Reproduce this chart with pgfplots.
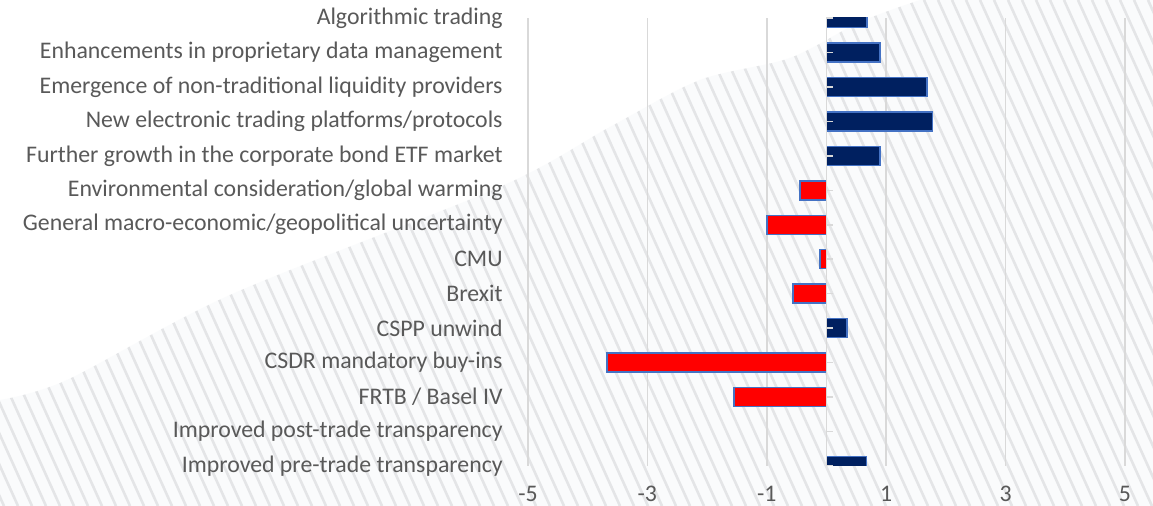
\documentclass[border=0pt]{standalone}
\usepackage{fontspec}
\setmainfont{Carlito}
\usepackage{pgfplots}
\pgfplotsset{compat=1.18}
\definecolor{navy}{HTML}{002060}
\definecolor{barred}{HTML}{FF0000}
\definecolor{edge}{HTML}{4472C4}
\definecolor{lbl}{HTML}{595959}
\definecolor{gridc}{HTML}{D9D9D9}
\definecolor{hatchbg}{HTML}{FAFBFC}
\definecolor{hatchc}{HTML}{E4E5E7}

% y = category index (0 = bottom), x = score
\pgfplotstableread{
y x
13 0.68
12 0.90
11 1.68
10 1.78
9  0.90
4  0.34
0  0.67
}\positive
\pgfplotstableread{
y x
8 -0.44
7 -1.00
6 -0.11
5 -0.56
3 -3.68
2 -1.55
}\negative

\begin{document}
\begin{tikzpicture}
\useasboundingbox (-264pt,-20pt) rectangle (312.5pt,233pt);
% decorative hatched background, in image pixels
\begin{scope}[shift={(-264pt,233pt)}, x=0.5pt, y=-0.5pt]
  \fill[white] (0,0) rectangle (1153,506);
  \begin{scope}
    \clip plot[smooth] coordinates {(0,400) (67,380) (230,295) (500,187) (610,127) (700,80) (790,58) (860,22) (920,0)}
      -- (1153,0) -- (1153,506) -- (0,506) -- cycle;
    \fill[hatchbg] (0,0) rectangle (1153,506);
    \foreach \k in {-18,...,84}
      \draw[hatchc, line width=1.3pt] ({\k*14},0) -- ({\k*14+228},506);
  \end{scope}
\end{scope}
\begin{axis}[
    scale only axis, width=298.5pt, height=224pt,
    xmin=-5, xmax=5, ymin=0, ymax=13,
    xtick={-5,-3,-1,1,3,5}, xticklabels={-5,-3,-1,1,3,5},
    ytick={0,...,13},
    yticklabels={Improved pre-trade transparency, Improved post-trade transparency,
      FRTB / Basel IV, CSDR mandatory buy-ins, CSPP unwind, Brexit, CMU,
      General macro-economic/geopolitical uncertainty,
      Environmental consideration/global warming,
      Further growth in the corporate bond ETF market,
      New electronic trading platforms/protocols,
      Emergence of non-traditional liquidity providers,
      Enhancements in proprietary data management, Algorithmic trading},
    axis line style={draw=none},
    major tick length=0pt,
    xmajorgrids, major grid style={gridc, line width=0.75pt},
    tick label style={font=\fontsize{11.9}{14}\selectfont, text=lbl},
    yticklabel style={inner sep=0pt, xshift=-12.5pt},
    xticklabel style={anchor=base, inner sep=0pt, yshift=-18pt},
    xbar, bar width=9.5pt, bar shift=0pt,
]
\addplot[fill=navy, draw=edge, line width=0.75pt] table[x=x, y=y] {\positive};
\addplot[fill=barred, draw=edge, line width=0.75pt] table[x=x, y=y] {\negative};
\draw[gridc, line width=0.75pt] (axis cs:0,0) -- (axis cs:0,13);
\pgfplotsinvokeforeach{0,...,13}{
  \draw[gridc, line width=0.75pt] (axis cs:0,#1) -- ([xshift=3.5pt]axis cs:0,#1);
}
\end{axis}
\end{tikzpicture}
\end{document}
